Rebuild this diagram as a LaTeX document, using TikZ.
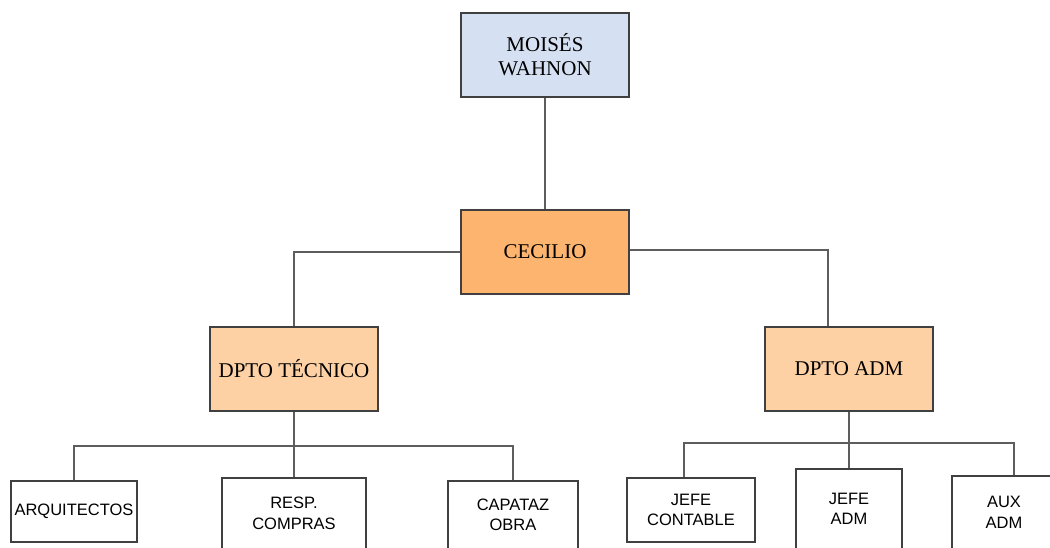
\documentclass[tikz,border=0pt]{standalone}
\usepackage{fontspec}
\setmainfont{Liberation Serif}
\setsansfont{Liberation Sans}
\usepackage{xcolor}
\usepackage{tikz}
\definecolor{boxblue}{HTML}{D5E1F3}
\definecolor{boxorange}{HTML}{FDB46F}
\definecolor{boxpeach}{HTML}{FDD1A3}
\definecolor{boxline}{HTML}{404040}
\tikzset{
    tnode/.style = {align=center, inner sep=0pt, text centered, draw=boxline, line width=1.4pt},
    head_node/.style = {tnode, fill=boxblue, minimum width=168pt, minimum height=84pt, font=\fontsize{21}{24}\selectfont},
    boss_node/.style = {tnode, fill=boxorange, minimum width=168pt, minimum height=84pt, font=\fontsize{21}{24}\selectfont},
    dept_node/.style = {tnode, fill=boxpeach, minimum width=168pt, minimum height=84pt, font=\fontsize{21}{24}\selectfont},
    staff_node/.style = {tnode, fill=white, font=\sffamily\fontsize{16.5}{20.5}\selectfont},
    link/.style = {draw=boxline!85, line width=1.4pt}
}

\begin{document}
\begin{tikzpicture}[x=1pt, y=-1pt]
    \useasboundingbox (0,0) rectangle (1050,547);
    \clip (0,0) rectangle (1050,547);

    % top levels
    \node [head_node] (moises) at (545,55) {MOISÉS\\WAHNON};
    \node [boss_node] (cecilio) at (545,252) {CECILIO};
    \node [dept_node] (tecnico) at (294,369) {DPTO TÉCNICO};
    \node [dept_node] (adm) at (849,369) {DPTO ADM};

    % staff
    \node [staff_node, minimum width=126pt, minimum height=61pt] (arq) at (74,511.5) {ARQUITECTOS};
    \node [staff_node, minimum width=144pt, minimum height=71pt] (resp) at (294,513.5) {RESP.\\COMPRAS};
    \node [staff_node, minimum width=130pt, minimum height=68pt] (capataz) at (513,515) {CAPATAZ\\OBRA};
    \node [staff_node, minimum width=128pt, minimum height=64pt] (contable) at (691,510) {JEFE\\CONTABLE};
    \node [staff_node, minimum width=106pt, minimum height=80pt] (jefeadm) at (849,509) {JEFE\\ADM};
    \node [staff_node, minimum width=104pt, minimum height=73pt] (aux) at (1004,512.5) {AUX\\ADM};

    \coordinate (tbus) at (294,446);
    \coordinate (abus) at (849,443);

    \draw [link] (moises) -- (cecilio);
    \draw [link] (cecilio.west) -| (tecnico.north);
    \draw [link] ([yshift=2pt]cecilio.east) -| ([xshift=-21pt]adm.north);

    \draw [link] (tecnico.south) -- (tbus);
    \draw [link] (arq.north) |- (tbus) -| (capataz.north);
    \draw [link] (tbus) -- (resp.north);

    \draw [link] (adm.south) -- (abus);
    \draw [link] ([xshift=-7pt]contable.north) |- (abus) -| ([xshift=10pt]aux.north);
    \draw [link] (abus) -- (jefeadm.north);
\end{tikzpicture}
\end{document}
